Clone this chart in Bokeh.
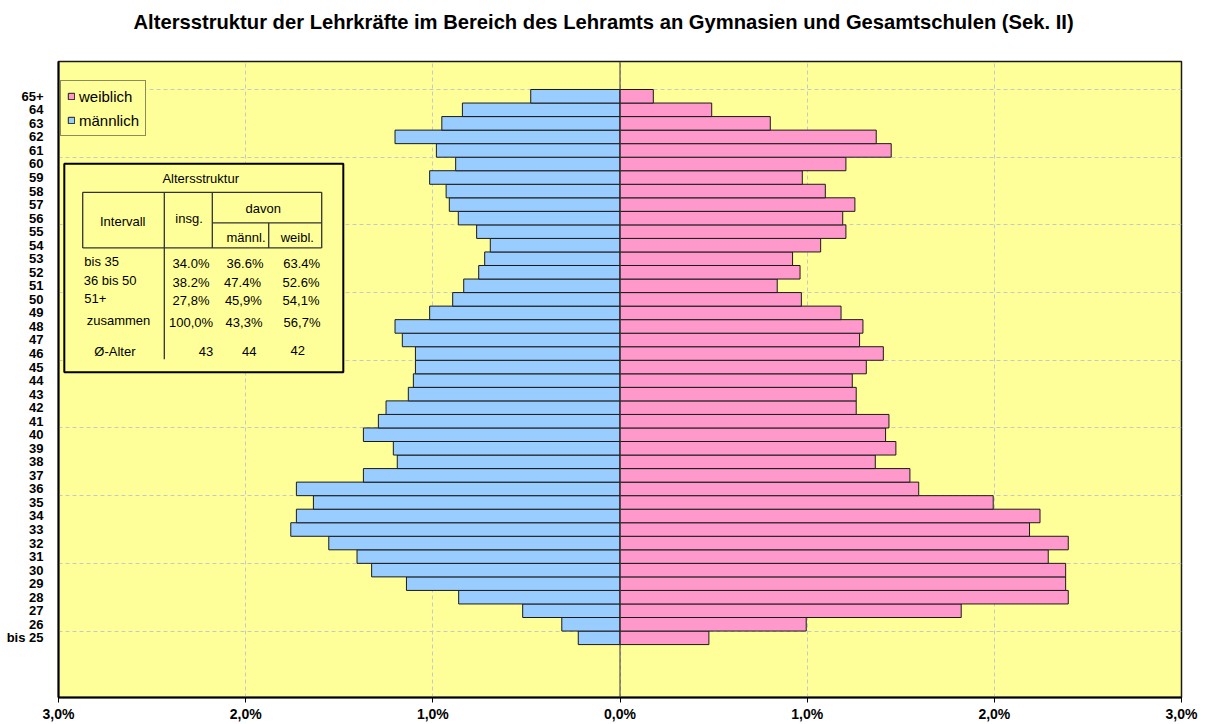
from bokeh.plotting import figure
from bokeh.models import Range1d, FixedTicker, Legend, LegendItem, Span, Title
from bokeh.core.properties import value
from bokeh.embed import file_html
from bokeh.resources import INLINE

# ---------------- data ----------------
age_labels = ["bis 25"] + [str(a) for a in range(26, 65)] + ["65+"]
# percent of all teachers, bis 25 ... 65+
male = [0.223, 0.311, 0.520, 0.862, 1.141, 1.327, 1.405, 1.556, 1.759, 1.729,
        1.638, 1.729, 1.371, 1.190, 1.211, 1.371, 1.291, 1.250, 1.131, 1.104,
        1.093, 1.093, 1.163, 1.202, 1.017, 0.894, 0.835, 0.755, 0.723, 0.693,
        0.766, 0.864, 0.912, 0.929, 1.017, 0.878, 0.981, 1.202, 0.952, 0.842,
        0.477]
female = [0.475, 0.995, 1.823, 2.395, 2.381, 2.381, 2.288, 2.395, 2.188, 2.244,
          1.994, 1.596, 1.549, 1.364, 1.474, 1.419, 1.437, 1.262, 1.262, 1.241,
          1.316, 1.407, 1.280, 1.298, 1.181, 0.969, 0.840, 0.962, 0.922, 1.072,
          1.207, 1.190, 1.255, 1.097, 0.974, 1.207, 1.449, 1.369, 0.803, 0.490,
          0.178]
x_ticks = [-3.0, -2.0, -1.0, 0.0, 1.0, 2.0, 3.0]
x_tick_labels = ["3,0%", "2,0%", "1,0%", "0,0%", "1,0%", "2,0%", "3,0%"]

table_title = "Altersstruktur"
table_header = ["Intervall", "insg.", "davon", "männl.", "weibl."]
table_rows = ["bis 35", "36 bis 50", "51+", "zusammen", "Ø-Alter"]
table_insg = ["34.0%", "38.2%", "27,8%", "100,0%", "43"]
table_maennl = ["36.6%", "47.4%", "45,9%", "43,3%", "44"]
table_weibl = ["63.4%", "52.6%", "54,1%", "56,7%", "42"]

title_text = "Altersstruktur der Lehrkräfte im Bereich des Lehramts an Gymnasien und Gesamtschulen (Sek. II)"

# ---------------- layout (page px) ----------------
FR_LEFT, FR_RIGHT, FR_TOP, FR_BOTTOM = 58, 1181, 61, 698

def X(px):
    return (px - 620.0) / 187.17

def Y(py):
    return (645.0 - py) / 13.56

FONT_NAME = "Liberation Sans"
FONT = value(FONT_NAME)
YELLOW = "#FFFF99"

ypos = [i + 0.5 for i in range(len(age_labels))]

p = figure(width=1205, height=724, output_backend="svg", toolbar_location=None,
           x_range=Range1d(-3, 3), y_range=Range1d(Y(FR_BOTTOM), Y(FR_TOP)),
           min_border_left=FR_LEFT, min_border_right=1205 - FR_RIGHT,
           min_border_top=FR_TOP, min_border_bottom=724 - FR_BOTTOM)
p.background_fill_color = YELLOW
p.border_fill_color = "white"
p.outline_line_color = "#1a1a1a"
p.outline_line_width = 1.5

# spacer panel next to the frame, then the title above it
p.add_layout(Title(text=" ", text_font_size="1px", standoff=15), "above")
p.add_layout(Title(text=title_text, align="left", vertical_align="top",
                   offset=133 - FR_LEFT, standoff=18,
                   text_font=FONT_NAME, text_font_size="20.2px", text_font_style="bold",
                   text_color="black"), "above")

# grids
p.xgrid.ticker = FixedTicker(ticks=x_ticks)
p.ygrid.ticker = FixedTicker(ticks=list(range(1, 42, 5)))
for g in (p.xgrid, p.ygrid):
    g.grid_line_color = "#C8C8C8"
    g.grid_line_dash = "4 3"
    g.grid_line_width = 1

# bars
rm = p.hbar(y=ypos, left=[-v for v in male], right=0, height=1,
            fill_color="#99CCFF", line_color="#1a1a1a", line_width=1)
rf = p.hbar(y=ypos, left=0, right=female, height=1,
            fill_color="#FF99CC", line_color="#1a1a1a", line_width=1)

p.add_layout(Span(location=0, dimension="height", line_color="#333333", line_width=1))

# axes
xa = p.xaxis[0]
xa.ticker = FixedTicker(ticks=x_ticks)
xa.major_label_overrides = dict(zip(x_ticks, x_tick_labels))
xa.major_label_text_font = FONT_NAME
xa.major_label_text_font_size = "14px"
xa.major_label_text_font_style = "bold"
xa.major_label_text_color = "black"
xa.major_tick_out = 5
xa.major_tick_in = 0
xa.minor_tick_out = 0
xa.minor_tick_in = 0
xa.major_label_standoff = 3
xa.axis_line_width = 2
xa.axis_line_color = "black"
xa.major_tick_line_color = "black"

ya = p.yaxis[0]
ya.ticker = FixedTicker(ticks=ypos)
ya.major_label_overrides = dict(zip(ypos, age_labels))
ya.major_label_text_font = FONT_NAME
ya.major_label_text_font_size = "13px"
ya.major_label_text_font_style = "bold"
ya.major_label_text_color = "black"
ya.major_tick_out = 0
ya.major_tick_in = 0
ya.minor_tick_out = 0
ya.minor_tick_in = 0
ya.major_label_standoff = 15
ya.axis_line_width = 2
ya.axis_line_color = "black"

# ---------------- table box ----------------
p.quad(left=[X(64.3)], right=[X(343.3)], top=[Y(163.3)], bottom=[Y(372.3)],
       fill_color=YELLOW, line_color="black", line_width=2)
seg = [  # (x0, y0, x1, y1) page px
    (82.7, 192.0, 321.7, 192.0),
    (82.7, 247.7, 321.7, 247.7),
    (82.7, 192.0, 82.7, 247.7),
    (321.7, 192.0, 321.7, 247.7),
    (164.3, 192.0, 164.3, 359.3),
    (212.3, 192.0, 212.3, 247.7),
    (212.3, 222.7, 321.7, 222.7),
    (268.7, 222.7, 268.7, 247.7),
]
p.segment(x0=[X(s[0]) for s in seg], y0=[Y(s[1]) for s in seg],
          x1=[X(s[2]) for s in seg], y1=[Y(s[3]) for s in seg],
          line_color="#333333", line_width=1.3)

txt_kw = dict(text_font=FONT, text_font_size=value("13px"), text_color="black",
              text_baseline="middle")
hdr_pos = [(122.7, 221.0), (189.0, 218.3), (263.3, 208.3), (246.0, 237.7), (297.3, 237.7)]
p.text(x=[X(200.7)] + [X(a) for a, b in hdr_pos], y=[Y(178.3)] + [Y(b) for a, b in hdr_pos],
       text=[table_title] + table_header, text_align="center", **txt_kw)
row_x = [84.3, 83.7, 84.3, 86.7, 94.3]
row_y = [261.7, 280.0, 298.3, 320.0, 351.7]
p.text(x=[X(v) for v in row_x], y=[Y(v) for v in row_y], text=table_rows,
       text_align="left", **txt_kw)
val_y = [263.5, 282.0, 300.0, 322.3, 351.5]
col_x = [[191.0, 191.0, 191.0, 191.0, 206.0],
         [245.0, 242.5, 243.3, 244.0, 249.3],
         [301.7, 301.0, 301.0, 302.0, 297.7]]
col_y = [val_y, val_y, val_y[:4] + [350.0]]
for cx, cy, vals in zip(col_x, col_y, [table_insg, table_maennl, table_weibl]):
    p.text(x=[X(v) for v in cx], y=[Y(v) for v in cy], text=vals,
           text_align="center", **txt_kw)

# ---------------- legend ----------------
legend = Legend(items=[LegendItem(label="weiblich", renderers=[rf]),
                       LegendItem(label="männlich", renderers=[rm])],
                location=(2, FR_BOTTOM - 137), orientation="vertical",
                background_fill_color=YELLOW, background_fill_alpha=1,
                border_line_color="#1a1a1a", border_line_width=1,
                label_text_font=FONT_NAME, label_text_font_size="15px",
                label_text_color="black",
                glyph_width=8, glyph_height=8, label_height=18, label_standoff=4,
                spacing=6, padding=6, margin=0)
p.add_layout(legend)

open("out.html", "w").write(file_html(p, INLINE))
